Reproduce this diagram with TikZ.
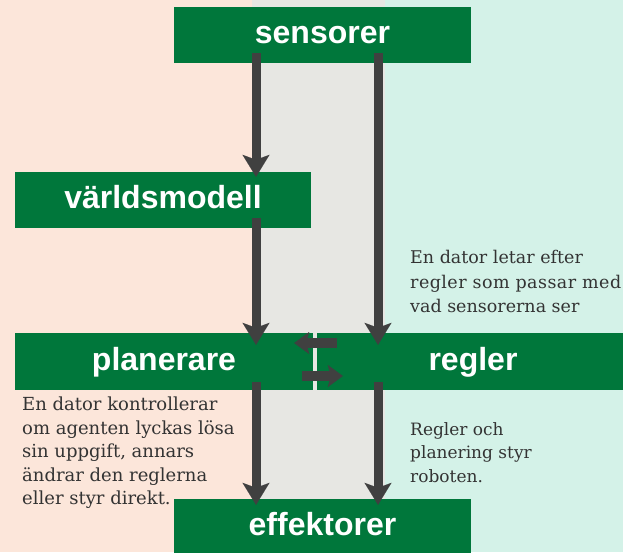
\documentclass[tikz,border=0pt]{standalone}
\usepackage{fontspec}
\setmainfont{DejaVu Serif}
\newfontfamily\boxfont{Liberation Sans}
\newfontfamily\bodyfont{DejaVu Serif}
\usetikzlibrary{arrows.meta,calc}
\definecolor{peach}{HTML}{FCE6DA}
\definecolor{midgrey}{HTML}{E7E7E3}
\definecolor{mint}{HTML}{D4F2E8}
\definecolor{boxgreen}{HTML}{00773B}
\definecolor{arrowgrey}{HTML}{404040}
\definecolor{textgrey}{HTML}{333333}
\begin{document}
\begin{tikzpicture}[x=1pt,y=-1pt,
  box/.style={fill=boxgreen, draw=none, inner sep=0pt, text=white,
    font=\boxfont\bfseries\fontsize{32}{38}\selectfont,
    text height=17pt, text depth=0pt},
  body/.style={inner sep=0pt, text=textgrey, align=left, anchor=north west,
    font=\bodyfont\fontsize{17.5}{23.5}\selectfont},
  arr/.style={draw=arrowgrey, line width=9pt,
    -{Stealth[length=22pt,width=27pt,inset=5pt,line width=0.1pt]}},
  swaparr/.style={draw=arrowgrey, line width=10pt,
    -{Stealth[length=15pt,width=22pt,inset=3pt,line width=0.1pt]}}]
\useasboundingbox (0,0) rectangle (623,552);
\fill[peach] (0,0) rectangle (252,552);
\fill[midgrey] (252,0) rectangle (385,552);
\fill[mint] (385,0) rectangle (623,552);

\node[box, minimum width=297pt, minimum height=56pt] (sens) at (322.5,35) {sensorer};
\node[box, minimum width=296pt, minimum height=56pt] (wm) at (163,200) {världsmodell};
\node[box, minimum width=298pt, minimum height=57pt] (plan) at (164,361.5) {planerare};
\node[box, minimum width=306pt, minimum height=57pt] (regl) at (470,361.5) {\hspace*{6pt}regler};
\node[box, minimum width=297pt, minimum height=56pt] (eff) at (322.5,527) {effektorer};

\coordinate (xL) at (256,0);
\coordinate (xR) at (378,0);

\draw[arr] ($(sens.south -| xL)+(0,-10)$) -- ($(wm.north -| xL)+(0,5)$);
\draw[arr] ($(sens.south -| xR)+(0,-10)$) -- ($(regl.north -| xR)+(0,12)$);
\draw[arr] ($(wm.south -| xL)+(0,-10)$) -- ($(plan.north -| xL)+(0,12)$);
\draw[arr] ($(plan.south -| xL)+(0,-8)$) -- ($(eff.north -| xL)+(0,6)$);
\draw[arr] ($(regl.south -| xR)+(0,-8)$) -- ($(eff.north -| xR)+(0,6)$);

\draw[swaparr] ($(regl.west)+(20,-18.5)$) -- ($(plan.east)+(-19,-18.5)$);
\draw[swaparr] ($(plan.east)+(-11,14.5)$) -- ($(regl.west)+(26,14.5)$);

\node[body, font=\bodyfont\fontsize{17.5}{24.5}\selectfont] (t1) at (410,250)
  {En dator letar efter\\{\addfontfeature{LetterSpace=2.5}regler som passar med}\\vad sensorerna ser};
\node[body, font=\bodyfont\fontsize{18}{23.5}\selectfont] (t2) at (22,397)
  {En dator kontrollerar\\om agenten lyckas lösa\\sin uppgift, annars\\ändrar den reglerna\\eller styr direkt.};
\node[body, font=\bodyfont\fontsize{17}{23.5}\selectfont] (t3) at (410,422)
  {Regler och\\planering styr\\roboten.};
\end{tikzpicture}
\end{document}
